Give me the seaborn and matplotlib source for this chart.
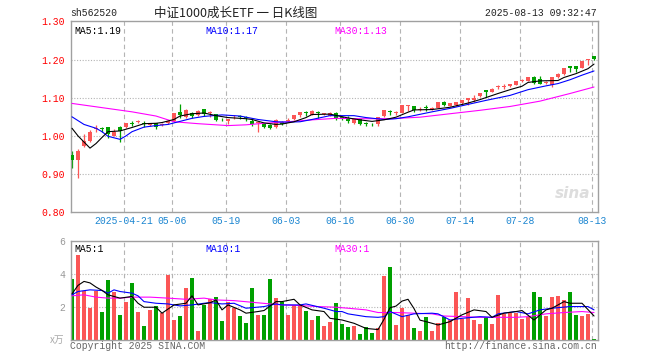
"""Daily K-line chart (sina style) for sh562520 with volume panel."""

import matplotlib
matplotlib.use("Agg")
import matplotlib.pyplot as plt
import numpy as np
import pandas as pd
import seaborn as sns

W, H = 660, 360

# ---- data ----------------------------------------------------------------
opens = [0.950, 0.937, 0.974, 0.987, 1.018, 1.020, 1.023, 1.000, 1.023, 1.024,
         1.034, 1.036, 1.034, 1.029, 1.033, 1.029, 1.033, 1.039, 1.063, 1.050,
         1.059, 1.055, 1.070, 1.061, 1.057, 1.044, 1.039, 1.051, 1.051, 1.049,
         1.040, 1.033, 1.030, 1.029, 1.022, 1.037, 1.040, 1.043, 1.055, 1.062,
         1.055, 1.060, 1.058, 1.052, 1.061, 1.048, 1.047, 1.034, 1.043, 1.032,
         1.031, 1.031, 1.051, 1.064, 1.060, 1.060, 1.079, 1.078, 1.069, 1.075,
         1.071, 1.073, 1.088, 1.078, 1.080, 1.085, 1.093, 1.093, 1.104, 1.119,
         1.115, 1.127, 1.129, 1.130, 1.134, 1.144, 1.144, 1.153, 1.150, 1.139,
         1.132, 1.153, 1.161, 1.182, 1.182, 1.179, 1.198, 1.209]
highs = [0.961, 0.967, 1.004, 1.015, 1.028, 1.024, 1.023, 1.017, 1.026, 1.035,
         1.039, 1.042, 1.039, 1.034, 1.035, 1.034, 1.041, 1.061, 1.084, 1.070,
         1.063, 1.069, 1.071, 1.065, 1.057, 1.048, 1.045, 1.055, 1.054, 1.052,
         1.043, 1.036, 1.031, 1.030, 1.043, 1.038, 1.046, 1.056, 1.063, 1.065,
         1.067, 1.065, 1.061, 1.062, 1.062, 1.051, 1.051, 1.043, 1.043, 1.036,
         1.035, 1.050, 1.067, 1.068, 1.066, 1.080, 1.082, 1.078, 1.075, 1.080,
         1.075, 1.089, 1.091, 1.087, 1.090, 1.094, 1.100, 1.106, 1.113, 1.119,
         1.125, 1.132, 1.137, 1.136, 1.144, 1.150, 1.154, 1.157, 1.157, 1.144,
         1.153, 1.164, 1.179, 1.183, 1.182, 1.196, 1.202, 1.210]
lows = [0.917, 0.889, 0.970, 0.983, 1.011, 1.011, 0.994, 1.000, 0.985, 1.020,
        1.026, 1.033, 1.023, 1.026, 1.017, 1.026, 1.031, 1.037, 1.046, 1.048,
        1.046, 1.052, 1.052, 1.050, 1.039, 1.039, 1.030, 1.044, 1.044, 1.039,
        1.026, 1.011, 1.020, 1.019, 1.020, 1.028, 1.036, 1.042, 1.049, 1.052,
        1.054, 1.046, 1.055, 1.051, 1.041, 1.042, 1.033, 1.030, 1.028, 1.027,
        1.027, 1.025, 1.050, 1.054, 1.055, 1.059, 1.066, 1.062, 1.065, 1.066,
        1.068, 1.072, 1.079, 1.077, 1.079, 1.080, 1.080, 1.089, 1.103, 1.103,
        1.114, 1.123, 1.123, 1.128, 1.133, 1.141, 1.143, 1.137, 1.137, 1.136,
        1.129, 1.152, 1.160, 1.168, 1.168, 1.178, 1.185, 1.198]
closes = [0.937, 0.961, 0.987, 1.009, 1.020, 1.019, 1.006, 1.011, 1.013, 1.035,
          1.032, 1.038, 1.032, 1.031, 1.024, 1.031, 1.039, 1.061, 1.055, 1.067,
          1.052, 1.066, 1.058, 1.063, 1.042, 1.043, 1.044, 1.053, 1.050, 1.047,
          1.030, 1.035, 1.022, 1.020, 1.041, 1.030, 1.042, 1.054, 1.063, 1.061,
          1.065, 1.059, 1.059, 1.061, 1.048, 1.047, 1.040, 1.043, 1.031, 1.031,
          1.030, 1.049, 1.067, 1.062, 1.062, 1.080, 1.081, 1.068, 1.071, 1.074,
          1.073, 1.089, 1.081, 1.086, 1.089, 1.093, 1.100, 1.100, 1.112, 1.115,
          1.124, 1.128, 1.130, 1.135, 1.143, 1.146, 1.153, 1.139, 1.137, 1.141,
          1.153, 1.163, 1.179, 1.177, 1.174, 1.196, 1.201, 1.201]
volumes = [3.70, 5.15, 2.97, 1.96, 2.97, 1.72, 3.64, 2.93, 1.52, 2.30,
           3.45, 1.72, 0.85, 1.84, 2.06, 1.64, 3.90, 1.21, 1.45, 3.15,
           3.76, 0.57, 2.12, 2.50, 2.60, 1.17, 2.32, 1.96, 1.45, 1.03,
           3.15, 1.52, 1.52, 3.70, 2.55, 2.32, 1.52, 2.12, 2.12, 1.78,
           1.21, 1.45, 0.85, 1.11, 2.26, 0.97, 0.81, 0.85, 0.36, 0.81,
           0.44, 0.71, 3.84, 4.44, 0.91, 1.96, 1.54, 0.73, 0.57, 1.39,
           0.57, 1.03, 1.39, 1.21, 2.91, 1.27, 2.55, 1.21, 0.97, 1.39,
           0.97, 2.73, 1.58, 1.64, 1.64, 1.27, 1.39, 2.91, 2.61, 1.45,
           2.61, 2.67, 2.42, 2.91, 1.52, 1.45, 1.58, 0.06]

# moving-average lines (candle index, value)
ma5_idx = [0, 1, 3, 4, 5, 6, 8, 10, 12, 14, 15, 17, 18, 20, 22, 24, 26, 29, 30, 32,
           34, 35, 37, 39, 40, 43, 46, 48, 50, 52, 54, 56, 57, 60, 61, 63, 66, 68, 71, 73,
           75, 76, 78, 81, 82, 84, 86, 87]
ma5_val = [1.020, 1.000, 0.968, 0.980, 0.996, 1.011, 1.013, 1.022, 1.032, 1.033, 1.035, 1.043,
           1.052, 1.058, 1.060, 1.053, 1.048, 1.045, 1.043, 1.034, 1.030, 1.031, 1.037, 1.048,
           1.056, 1.057, 1.047, 1.042, 1.038, 1.042, 1.049, 1.062, 1.068, 1.069, 1.071, 1.075,
           1.086, 1.095, 1.111, 1.121, 1.130, 1.140, 1.144, 1.145, 1.153, 1.163, 1.176, 1.188]
ma10_idx = [0, 2, 4, 5, 6, 8, 9, 10, 12, 14, 16, 18, 20, 22, 25, 28, 31, 34, 36, 38,
            40, 43, 47, 49, 52, 54, 56, 60, 63, 65, 69, 73, 76, 79, 81, 83, 85, 87]
ma10_val = [1.050, 1.030, 1.020, 1.011, 0.999, 0.991, 1.000, 1.011, 1.023, 1.027, 1.030, 1.038,
            1.046, 1.051, 1.055, 1.052, 1.043, 1.037, 1.036, 1.037, 1.043, 1.053, 1.053, 1.048,
            1.043, 1.045, 1.050, 1.063, 1.072, 1.079, 1.093, 1.106, 1.121, 1.131, 1.137, 1.147,
            1.159, 1.170]
ma30_idx = [0, 5, 10, 14, 17, 21, 26, 29, 32, 36, 40, 44, 48, 53, 58, 63, 68, 73, 78, 83, 87]
ma30_val = [1.085, 1.074, 1.063, 1.052, 1.037, 1.032, 1.027, 1.029, 1.033, 1.037, 1.042,
            1.046, 1.045, 1.045, 1.049, 1.058, 1.067, 1.077, 1.091, 1.111, 1.128]

vma5_idx = [0, 1, 2, 3, 4, 5, 6, 8, 10, 11, 12, 14, 15, 17, 19, 20, 21, 23, 24, 25,
            26, 28, 29, 31, 32, 34, 35, 37, 38, 40, 42, 43, 45, 47, 49, 51, 52, 53, 54, 55,
            56, 57, 58, 59, 61, 63, 65, 67, 69, 70, 72, 74, 75, 77, 79, 80, 82, 83, 85, 87]
vma5_val = [2.79, 3.30, 3.54, 3.45, 3.20, 3.00, 2.73, 2.53, 2.63, 2.22, 1.98, 1.98, 1.62,
            2.12, 2.22, 2.67, 2.12, 2.25, 2.42, 1.82, 2.12, 1.82, 1.62, 1.72, 1.78, 2.32,
            2.32, 2.46, 2.12, 1.82, 1.72, 1.31, 1.21, 1.01, 0.70, 0.63, 1.25, 1.95, 2.05,
            2.35, 2.46, 1.90, 1.20, 1.11, 0.91, 1.11, 1.52, 1.82, 1.72, 1.37, 1.62, 1.72,
            1.78, 1.21, 1.82, 1.92, 2.32, 2.22, 2.22, 1.45]
vma10_idx = [0, 1, 3, 5, 6, 7, 8, 10, 11, 12, 14, 16, 18, 20, 22, 23, 25, 27, 29, 32,
             34, 35, 38, 39, 42, 44, 45, 46, 49, 51, 52, 53, 55, 57, 60, 61, 63, 65, 68, 70,
             71, 74, 76, 78, 80, 83, 86, 87]
vma10_val = [2.73, 2.93, 3.03, 2.99, 2.83, 3.03, 2.93, 2.83, 2.67, 2.32, 2.22, 2.18, 2.06,
             2.12, 2.22, 2.26, 2.18, 2.22, 1.92, 2.02, 2.18, 2.12, 2.12, 2.18, 1.92, 1.72,
             1.72, 1.58, 1.41, 1.37, 1.41, 1.72, 1.41, 1.58, 1.62, 1.58, 1.21, 1.31, 1.41,
             1.37, 1.58, 1.72, 1.58, 1.82, 1.92, 2.02, 2.02, 1.82]
vma30_idx = [0, 2, 4, 6, 8, 10, 13, 16, 19, 22, 24, 27, 30, 33, 35, 38, 41, 44, 46, 49,
             51, 54, 57, 60, 62, 65, 68, 74, 76, 79, 82, 85, 87]
vma30_val = [2.67, 2.73, 2.59, 2.53, 2.53, 2.59, 2.59, 2.53, 2.46, 2.53, 2.42, 2.38, 2.28,
             2.18, 2.12, 2.08, 2.02, 1.98, 1.92, 1.82, 1.66, 1.66, 1.62, 1.58, 1.45, 1.41,
             1.37, 1.37, 1.41, 1.58, 1.66, 1.72, 1.66]

grid_idx = [9, 17, 26, 36, 45, 55, 65, 75, 87]
date_labels = ["2025-04-21", "05-06", "05-19", "06-03", "06-16", "06-30",
               "07-14", "07-28", "08-13"]
price_ticks = [0.80, 0.90, 1.00, 1.10, 1.20, 1.30]
vol_ticks = [2, 4, 6]

RED = "#fb5656"
GREEN = "#00a000"
GRID = "#b4b4b4"
SPINE = "#a0a0a0"
MONO = ["Liberation Mono", "DejaVu Sans Mono"]
CJK = ["Noto Sans CJK SC", "DejaVu Sans"]
FS = 7

sns.set_style("white")
plt.rcParams["font.family"] = MONO

df = pd.DataFrame({"open": opens, "high": highs, "low": lows,
                   "close": closes, "volume": volumes})
df["idx"] = np.arange(len(df))
df["dir"] = np.where(df["close"] >= df["open"], "up", "down")
colors = df["dir"].map({"up": RED, "down": GREEN})

fig = plt.figure(figsize=(W / 100, H / 100), dpi=100)


def box(x0, y0, x1, y1):
    return [x0 / W, 1 - y1 / H, (x1 - x0) / W, (y1 - y0) / H]


def ftext(x, y, s, **kw):
    fig.text(x / W, 1 - y / H, s, **kw)


ax = fig.add_axes(box(70.5, 21.3, 597.5, 212.3))
axv = fig.add_axes(box(70.5, 240.7, 597.5, 340.0))
xlim = (-0.25, 87.58)

# ---- price panel -----------------------------------------------------------
for v in price_ticks[1:-1]:
    ax.axhline(v, color=GRID, lw=0.8, ls=(0, (1, 1.5)), zorder=0)
for g in grid_idx:
    ax.axvline(g - 0.3, color=GRID, lw=0.8, ls=(0, (4, 3)), zorder=0)

ax.vlines(df["idx"], df["low"], df["high"], colors=colors, lw=0.9, zorder=2)
body_lo = df[["open", "close"]].min(axis=1)
body_h = (df["close"] - df["open"]).abs().clip(lower=0.0024)
ax.bar(df["idx"], body_h, bottom=body_lo, width=0.8, color=colors, lw=0, zorder=3)

sns.lineplot(x=ma30_idx, y=ma30_val, color="#ff00ff", lw=0.8, ax=ax, zorder=4)
sns.lineplot(x=ma10_idx, y=ma10_val, color="#0000ff", lw=0.8, ax=ax, zorder=4)
sns.lineplot(x=ma5_idx, y=ma5_val, color="black", lw=0.8, ax=ax, zorder=4)

ax.set_xlim(*xlim)
ax.set_ylim(0.80, 1.30)
ax.set_yticks(price_ticks)
ax.set_yticklabels([f"{v:.2f}" for v in price_ticks])
ax.tick_params(axis="y", colors="red", length=0, pad=4, labelsize=FS)
ax.set_xticks([g - 0.3 for g in grid_idx])
ax.set_xticklabels(date_labels)
ax.tick_params(axis="x", colors="#1c86d1", length=0, pad=3, labelsize=FS)
ax.set_xlabel("")
ax.set_ylabel("")

ax.text(0.008, 0.975, "MA5:1.19", transform=ax.transAxes, va="top", ha="left",
        fontsize=FS, color="black")
ax.text(0.255, 0.975, "MA10:1.17", transform=ax.transAxes, va="top", ha="left",
        fontsize=FS, color="#0000ff")
ax.text(0.501, 0.975, "MA30:1.13", transform=ax.transAxes, va="top", ha="left",
        fontsize=FS, color="#ff00ff")

# ---- volume panel ------------------------------------------------------------
for v in vol_ticks[:-1]:
    axv.axhline(v, color=GRID, lw=0.8, ls=(0, (1, 1.5)), zorder=0)
for g in grid_idx:
    axv.axvline(g - 0.3, color=GRID, lw=0.8, ls=(0, (4, 3)), zorder=0)

sns.barplot(data=df, x="idx", y="volume", hue="dir", palette={"up": RED, "down": GREEN},
            native_scale=True, dodge=False, width=0.8, saturation=1, errorbar=None,
            linewidth=0, legend=False, ax=axv, zorder=2)
sns.lineplot(x=vma30_idx, y=vma30_val, color="#ff00ff", lw=0.8, ax=axv, zorder=4)
sns.lineplot(x=vma10_idx, y=vma10_val, color="#0000ff", lw=0.8, ax=axv, zorder=4)
sns.lineplot(x=vma5_idx, y=vma5_val, color="black", lw=0.8, ax=axv, zorder=4)

axv.set_xlim(*xlim)
axv.set_ylim(0, 6)
axv.set_xticks([])
axv.set_yticks(vol_ticks)
axv.set_yticklabels([str(v) for v in vol_ticks])
axv.tick_params(axis="y", colors="#999999", length=0, pad=4, labelsize=FS)
axv.set_xlabel("")
axv.set_ylabel("")

axv.text(0.008, 0.97, "MA5:1", transform=axv.transAxes, va="top", ha="left",
         fontsize=FS, color="black")
axv.text(0.255, 0.97, "MA10:1", transform=axv.transAxes, va="top", ha="left",
         fontsize=FS, color="#0000ff")
axv.text(0.501, 0.97, "MA30:1", transform=axv.transAxes, va="top", ha="left",
         fontsize=FS, color="#ff00ff")

for a in (ax, axv):
    for s in a.spines.values():
        s.set_color(SPINE)
        s.set_linewidth(1)

# ---- header / footer text ------------------------------------------------------
ftext(70, 13.5, "sh562520", ha="left", va="center", fontsize=FS, color="#222222")
ftext(236, 13.5, "中证1000成长ETF 一 日K线图", ha="center", va="center", fontsize=9,
      color="#222222", family=CJK)
ftext(597, 13.5, "2025-08-13 09:32:47", ha="right", va="center", fontsize=FS,
      color="#222222")
ftext(57, 340, "x万", ha="center", va="center", fontsize=7, color="#aaaaaa", family=CJK)
ftext(70, 346, "Copyright 2025 SINA.COM", ha="left", va="center", fontsize=FS,
      color="#666666")
ftext(597, 346, "http://finance.sina.com.cn", ha="right", va="center", fontsize=FS,
      color="#666666")
ftext(573, 193, "sina", ha="center", va="center", fontsize=11, color="#dddddd",
      style="italic", weight="bold", family=["DejaVu Sans"])

fig.savefig("out.png", dpi=100)
plt.close(fig)
